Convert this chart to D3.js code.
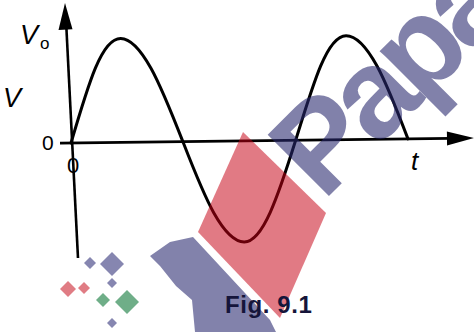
<!DOCTYPE html>
<html>
<head>
<meta charset="utf-8">
<script src="https://cdn.jsdelivr.net/npm/d3@7"></script>
<style>
  html, body { margin: 0; padding: 0; background: #fff; }
  svg { display: block; font-family: "Liberation Sans", Arial, sans-serif; }
</style>
</head>
<body>
<div id="chart"></div>
<script>
// t in periods, V in units of Vo
const tValues = [0, 0.113, 0.227, 0.36, 0.498, 0.632, 0.766, 0.883, 1.0, 1.115, 1.23, 1.365, 1.5]
const vValues = [0, 0.72, 1, 0.71, 0, -0.71, -1, -0.71, 0, 0.71, 1, 0.71, 0]
const points = tValues.map((t, i) => ({ t, v: vValues[i] }))

const width = 474, height = 332
const origin = { x: 71, y: 143 }

const svg = d3.select('#chart').append('svg')
  .attr('width', width)
  .attr('height', height)

const x = d3.scaleLinear().domain([0, 1.5]).range([origin.x, 408])
const y = d3.scaleLinear().domain([-1, 0, 1]).range([244, origin.y, 39])

// plot group is tilted a little, like the scanned figure
const g = svg.append('g')
  .attr('transform', `rotate(-0.7,${origin.x},${origin.y})`)

// t axis
g.append('line')
  .attr('x1', 60).attr('y1', origin.y)
  .attr('x2', 450).attr('y2', origin.y)
  .attr('stroke', '#000').attr('stroke-width', 2.6)
g.append('path')
  .attr('d', `M474,${origin.y} L447,${origin.y - 7} L447,${origin.y + 7} Z`)
  .attr('fill', '#000')

// the wave
const line = d3.line()
  .x(d => x(d.t))
  .y(d => y(d.v))
  .curve(d3.curveNatural)

g.append('path')
  .datum(points)
  .attr('fill', 'none')
  .attr('stroke', '#000')
  .attr('stroke-width', 3)
  .attr('stroke-linecap', 'round')
  .attr('d', line)

// V axis (leans slightly, runs below the origin)
svg.append('line')
  .attr('x1', 78).attr('y1', 258)
  .attr('x2', 66.3).attr('y2', 26)
  .attr('stroke', '#000').attr('stroke-width', 2.6)
svg.append('path')
  .attr('d', 'M65,3 L58.5,30 L72.5,29.3 Z')
  .attr('fill', '#000')

// labels
const label = (tx, ty, txt, size, opts = {}) => svg.append('text')
  .attr('x', tx).attr('y', ty)
  .attr('font-size', size)
  .attr('font-style', opts.italic ? 'italic' : 'normal')
  .attr('font-weight', opts.bold ? 'bold' : 'normal')
  .attr('text-anchor', opts.anchor || 'start')
  .attr('letter-spacing', opts.spacing || 0)
  .attr('fill', opts.fill || '#000')
  .text(txt)

label(20, 44, 'V', 27, { italic: true })
label(40, 49, 'o', 17)
label(3, 107, 'V', 27, { italic: true })
label(42, 150, '0', 21)
label(73, 173, '0', 22, { anchor: 'middle' })
label(411, 170, 't', 26, { italic: true })

// watermark, drawn over the figure
const wm = svg.append('g')
const blue = 'rgb(40,40,110)'
wm.append('polygon')
  .attr('points', '243,132 326,213 280,318 198,232')
  .attr('fill', 'rgb(198,0,20)').attr('opacity', 0.52)
wm.append('polygon')
  .attr('points', '150,256 170,242 193,237 270,320 276,332 195,332 192,300 176,286 160,266')
  .attr('fill', blue).attr('opacity', 0.58)
wm.append('text')
  .attr('transform', 'translate(323,202) rotate(-45)')
  .attr('font-size', 126)
  .attr('font-weight', 'bold')
  .attr('letter-spacing', -8)
  .attr('fill', blue).attr('opacity', 0.58)
  .text('Papa')

const diamonds = [
  [90, 263, 6, '#8686b0'], [112, 264, 12, '#8686b0'], [112, 283, 5, '#8686b0'],
  [68, 289, 8, '#e07c84'], [84, 288, 6, '#e07c84'],
  [103, 300, 7, '#6fae88'], [127, 302, 12, '#6fae88'], [112, 323, 5, '#8686b0']
]
wm.selectAll('rect.dm').data(diamonds).enter().append('rect')
  .attr('class', 'dm')
  .attr('x', d => d[0] - d[2] / Math.SQRT2)
  .attr('y', d => d[1] - d[2] / Math.SQRT2)
  .attr('width', d => d[2] * Math.SQRT2)
  .attr('height', d => d[2] * Math.SQRT2)
  .attr('transform', d => `rotate(45,${d[0]},${d[1]})`)
  .attr('fill', d => d[3])

label(225, 313, 'Fig. 9.1', 24, { bold: true, fill: '#15153a', spacing: 0.6 })
</script>
</body>
</html>
